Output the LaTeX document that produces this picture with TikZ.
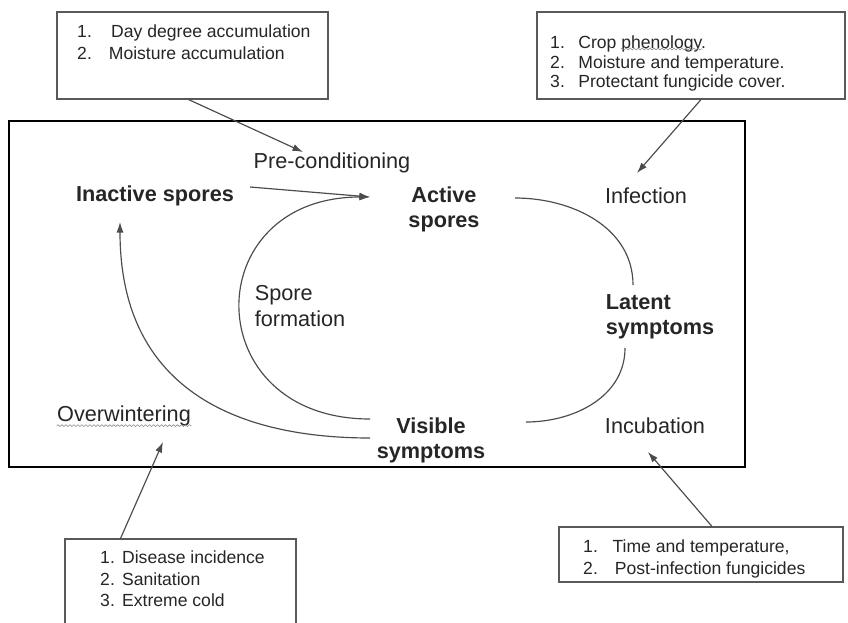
\documentclass[tikz,border=0pt]{standalone}
\usepackage{fontspec}
\setmainfont{Liberation Sans}
\usetikzlibrary{arrows.meta,calc,decorations.pathmorphing}

\newcommand{\numcol}[2]{\makebox[#1][l]{#2}}

\begin{document}
\begin{tikzpicture}[x=0.03cm, y=-0.03cm,
    every node/.style={text=black!85},
    lbl/.style={font=\fontsize{18.5}{21.5}\selectfont, inner sep=1pt},
    stage/.style={lbl, font=\fontsize{18.5}{21.5}\selectfont\bfseries, align=center},
    factbox/.style={draw=black!65, line width=0.9pt, fill=white},
    facts/.style={font=\fontsize{15}{18.6}\selectfont, align=left, anchor=north west, inner sep=0pt},
    flow/.style={draw=black!70, line width=1pt, -{Latex[length=9pt,width=6pt]}},
    link/.style={draw=black!70, line width=1pt},
    spellwave/.style={draw=black!45, line width=0.5pt, decorate, decoration={snake, amplitude=0.8pt, segment length=3.4pt}}]
    \fill[white] (0,0) rectangle (848,623);
    \useasboundingbox (0,0) rectangle (848,623);
    \clip (0,0) rectangle (848,623);

    \node[factbox, minimum width=8.13cm, minimum height=2.61cm] (dd) at (192.5,55.5) {};
    \node[facts] (ddtxt) at (77,25) {\numcol{29pt}{1.}Day degree accumulation\\ \numcol{27pt}{2.}Moisture accumulation};
    \node[factbox, minimum width=9.24cm, minimum height=2.61cm] (cp) at (691,55.5) {};
    \node[facts, font=\fontsize{15}{16.6}\selectfont] (cptxt) at (550,36) {\numcol{24pt}{1.}Crop phenology.\\ \numcol{24pt}{2.}Moisture and temperature.\\ \numcol{24pt}{3.}Protectant fungicide cover.};
    \node[factbox, minimum width=6.93cm, minimum height=3.33cm] (di) at (180.5,594.5) {};
    \node[facts, font=\fontsize{15}{18.3}\selectfont] (ditxt) at (100,551) {\numcol{18.7pt}{1.}Disease incidence\\ \numcol{18.7pt}{2.}Sanitation\\ \numcol{18.7pt}{3.}Extreme cold};
    \node[factbox, minimum width=8.52cm, minimum height=1.65cm] (ti) at (701,554.5) {};
    \node[facts] (titxt) at (583,540) {\numcol{25pt}{1.}Time and temperature,\\ \numcol{27pt}{2.}Post-infection fungicides};
    \path[spellwave] ($(cptxt.north west)+(71,13)$) -- ++(81,0);

    \draw[line width=2.4pt] (9,121) rectangle (745,467);

    \node[lbl] (pre) at (332,163) {Pre-conditioning};
    \node[stage] (inact) at (155,196) {Inactive spores};
    \node[stage] (act) at (444,209) {Active\\spores};
    \node[lbl] (inf) at (646,196) {Infection};
    \node[stage, align=left] (lat) at (660,317) {Latent\\symptoms};
    \node[stage] (vis) at (431,440) {Visible\\symptoms};
    \node[lbl] (inc) at (655,426) {Incubation};
    \node[lbl, align=left] (spf) at (300,306) {Spore\\formation};
    \node[lbl] (ovw) at (124,416) {Overwintering};
    \path[spellwave] ($(ovw.base west)+(1,4)$) -- ($(ovw.base east)+(-1,4)$);

    \coordinate (tip) at ($(act)+(-74,-12)$);
    \draw[flow] ($(inact)+(95,-9)$) -- (tip);
    \draw[flow] ($(vis)+(-61,-21)$) to[out=180, in=180, looseness=2] (tip);
    \draw[flow] ($(vis)+(-61,-2)$) to[out=180, in=-90, out looseness=0.95, in looseness=1.35] ($(inact)+(-35,26)$);
    \draw[link] ($(act)+(71,-11)$) to[out=0, in=90] ($(lat)+(-27,-32)$);
    \draw[link] ($(lat)+(-35,31)$) to[out=-90, in=0] ($(vis)+(95,-18)$);

    \draw[flow] ($(dd.south)+(-4,0)$) -- ($(pre)+(-29,-11)$);
    \draw[flow] ($(cp.south)+(10,0)$) -- ($(inf)+(-9,-23)$);
    \draw[flow] ($(di.north)+(-60,0)$) -- ($(ovw)+(39,26)$);
    \draw[flow] ($(ti.north)+(11,0)$) -- ($(inc)+(-7,26)$);
\end{tikzpicture}
\end{document}
